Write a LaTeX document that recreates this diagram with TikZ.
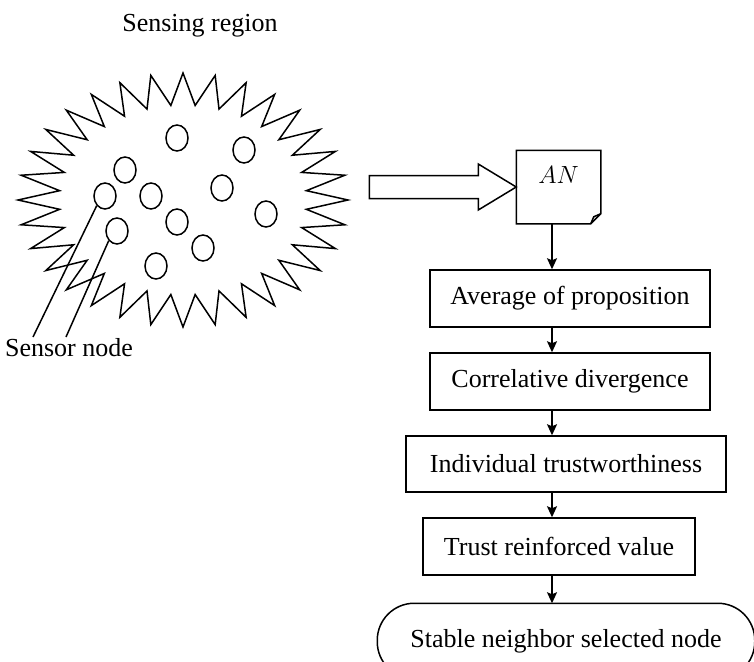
\documentclass[tikz,border=0pt]{standalone}
\usepackage{fontspec}
\setmainfont{Liberation Serif}
\usetikzlibrary{arrows.meta,shapes.geometric}

\tikzset{
  stepbox/.style={draw, minimum height=57pt, inner sep=0pt},
  sensor/.style={draw, ellipse, minimum width=22pt, minimum height=26pt, inner sep=0pt},
  flow/.style={-{Stealth[length=11pt,width=10pt,inset=2pt]}},
}

\begin{document}
\begin{tikzpicture}[x=1pt, y=-1pt, font=\fontsize{26}{30}\selectfont, line width=1.5pt]
  \useasboundingbox (0,0) rectangle (754,661);

  % sensing region
  \node[anchor=base] (region) at (200,32) {Sensing region};
  \begin{scope}[shift={(183,200)}]
    \draw (0:165 and 127) \foreach \k in {0,...,31}{
      -- ({\k*11.25+5.625}:124 and 95) -- ({(\k+1)*11.25}:165 and 127)} -- cycle;
  \end{scope}

  % sensor nodes
  \foreach \n/\p in {1/{(177,138)}, 2/{(244,150)}, 3/{(125,170)}, 4/{(222,188)},
                     5/{(105,196)}, 6/{(151,196)}, 7/{(266,214)}, 8/{(177,222)},
                     9/{(117,231)}, 10/{(203,248)}, 11/{(156,266)}}
    \node[sensor] (s\n) at \p {};

  \node[anchor=base] (sensorlbl) at (69,356) {Sensor node};
  \coordinate (lead1) at (33,337);
  \coordinate (lead2) at (66,337);
  \draw (s5.south west) -- (lead1);
  \draw (s9.south west) -- (lead2);

  % aggregated node
  \node[minimum width=83pt, minimum height=72pt, inner sep=0pt] (doc) at (558.5,187) {};
  \node (antext) at ([yshift=12pt]doc.center) {$AN$};
  \draw (doc.north west) -- (doc.north east) -- ([yshift=10pt]doc.south east)
        -- ([xshift=-10pt]doc.south east) -- (doc.south west) -- cycle;
  \draw (doc.south east) ++(0,-10) -- ++(-7,3) -- ++(-3,7);

  % hollow arrow
  \draw (doc.west) -- ++(-38,-23) -- ++(0,11.5) -- ++(-109,0) -- ++(0,23)
        -- ++(109,0) -- ++(0,11.5) -- cycle;

  % steps
  \node[stepbox, minimum width=280pt] (avg) at (570,298.5) {Average of proposition};
  \node[stepbox, minimum width=280pt] (corr) at (570,381.5) {Correlative divergence};
  \node[stepbox, minimum width=320pt, minimum height=56pt] (indiv) at (566,464) {Individual trustworthiness};
  \node[stepbox, minimum width=272pt] (trust) at (559,546.5) {Trust reinforced value};
  \node[minimum width=376pt, minimum height=74pt, inner sep=0pt] (stable) at (566,641) {Stable neighbor selected node};
  \begin{scope}
    \clip (0,0) rectangle (754,661);
    \draw[rounded corners=37pt] (stable.north west) rectangle (stable.south east);
  \end{scope}

  \coordinate (axis) at (552,0);
  \draw[flow] (doc.south -| axis) -- (avg.north -| axis);
  \draw[flow] (avg.south -| axis) -- (corr.north -| axis);
  \draw[flow] (corr.south -| axis) -- (indiv.north -| axis);
  \draw[flow] (indiv.south -| axis) -- (trust.north -| axis);
  \draw[flow] (trust.south -| axis) -- (stable.north -| axis);
\end{tikzpicture}
\end{document}
